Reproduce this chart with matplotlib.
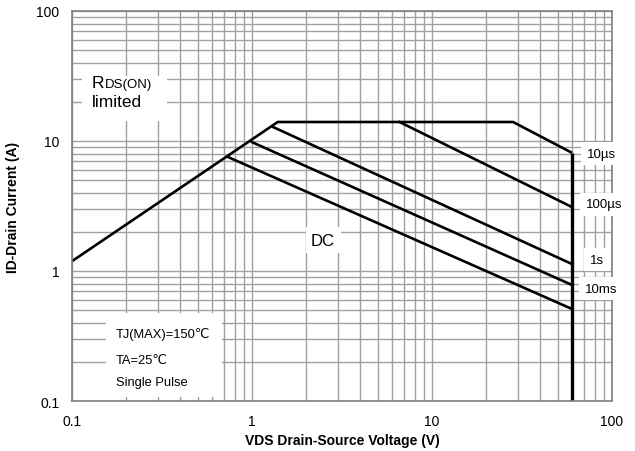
import matplotlib
matplotlib.use("Agg")
import matplotlib.pyplot as plt
from matplotlib.patches import Rectangle

plt.rcParams['font.family'] = ['Liberation Sans', 'DejaVu Sans']

# safe operating area envelope (Rds(on) limit, current limit, 10us, Vds max)
env_v = [0.1, 1.39, 28.2, 60, 60]
env_i = [1.19, 14, 14, 8.1, 0.1]

# pulse lines
us100_v = [6.6, 60]
us100_i = [14, 3.1]
s1_v = [1.31, 60]
s1_i = [12.8, 1.13]
ms10_v = [1.0, 60]
ms10_i = [9.8, 0.78]
dc_v = [0.74, 60]
dc_i = [7.5, 0.51]

xticks = [0.1, 1, 10, 100]
yticks = [0.1, 1, 10, 100]

fig = plt.figure(figsize=(6.35, 4.52), dpi=100)
ax = fig.add_axes([0.1134, 0.1106, 0.8504, 0.8629])

ax.set_xscale('log')
ax.set_yscale('log')
ax.set_xlim(0.1, 100)
ax.set_ylim(0.1, 100)
ax.set_axisbelow(True)
ax.grid(True, which='both', color='#a0a0a0', lw=1.0)

lw = 1.9
ax.plot(env_v[:4], env_i[:4], color='black', lw=lw, solid_capstyle='butt')
ax.plot(env_v[3:], env_i[3:], color='black', lw=2.4, solid_capstyle='butt')
ax.plot(us100_v, us100_i, color='black', lw=lw)
ax.plot(s1_v, s1_i, color='black', lw=lw)
ax.plot(ms10_v, ms10_i, color='black', lw=lw)
ax.plot(dc_v, dc_i, color='black', lw=lw)

ax.set_xticks(xticks)
ax.set_xticklabels(['0.1', '1', '10', '100'])
ax.set_yticks(yticks)
ax.set_yticklabels(['0.1', '1', '10', '100'])
ax.tick_params(which='both', length=0, labelsize=10, pad=9)
for s in ax.spines.values():
    s.set_color('#808080')
    s.set_linewidth(1.2)

ax.set_xlabel('VDS Drain-Source Voltage (V)', fontsize=10, fontweight='bold', labelpad=4)
ax.set_ylabel('ID-Drain Current (A)', fontsize=10, fontweight='bold', labelpad=12)

# white boxes hiding the grid behind the notes
ax.add_patch(Rectangle((0.0185, 0.718), 0.158, 0.115, transform=ax.transAxes,
                       fc='white', ec='none', zorder=1))
ax.add_patch(Rectangle((0.063, 0.01), 0.215, 0.216, transform=ax.transAxes,
                       fc='white', ec='none', zorder=1))

r = ax.text(0.037, 0.805, 'R', transform=ax.transAxes, fontsize=12.5, va='baseline', zorder=3)
ax.annotate('DS(ON)', xy=(1, 0), xycoords=r, fontsize=9.5, va='bottom', zorder=3)
ax.text(0.037, 0.756, 'limited', transform=ax.transAxes, fontsize=12.5, va='baseline', zorder=3)

ax.text(0.081, 0.172, 'TJ(MAX)=150\u2103', transform=ax.transAxes, fontsize=9.3, va='center', zorder=3)
ax.text(0.081, 0.105, 'TA=25\u2103', transform=ax.transAxes, fontsize=9.3, va='center', zorder=3)
ax.text(0.081, 0.049, 'Single Pulse', transform=ax.transAxes, fontsize=9.3, va='center', zorder=3)

box = dict(fc='white', ec='none', pad=4)
ax.text(2.48, 1.73, 'DC', fontsize=12, ha='center', va='center', bbox=box, zorder=3)
ax.text(87, 8.0, '10\u00b5s', fontsize=9.5, ha='center', va='center', bbox=box, zorder=5, clip_on=False)
ax.text(90, 3.27, '100\u00b5s', fontsize=9.5, ha='center', va='center', bbox=box, zorder=5, clip_on=False)
ax.text(82.6, 1.22, '1s', fontsize=9.5, ha='center', va='center', bbox=box, zorder=5, clip_on=False)
ax.text(87, 0.73, '10ms', fontsize=9.5, ha='center', va='center', bbox=box, zorder=5, clip_on=False)

fig.savefig('out.png', dpi=100)
